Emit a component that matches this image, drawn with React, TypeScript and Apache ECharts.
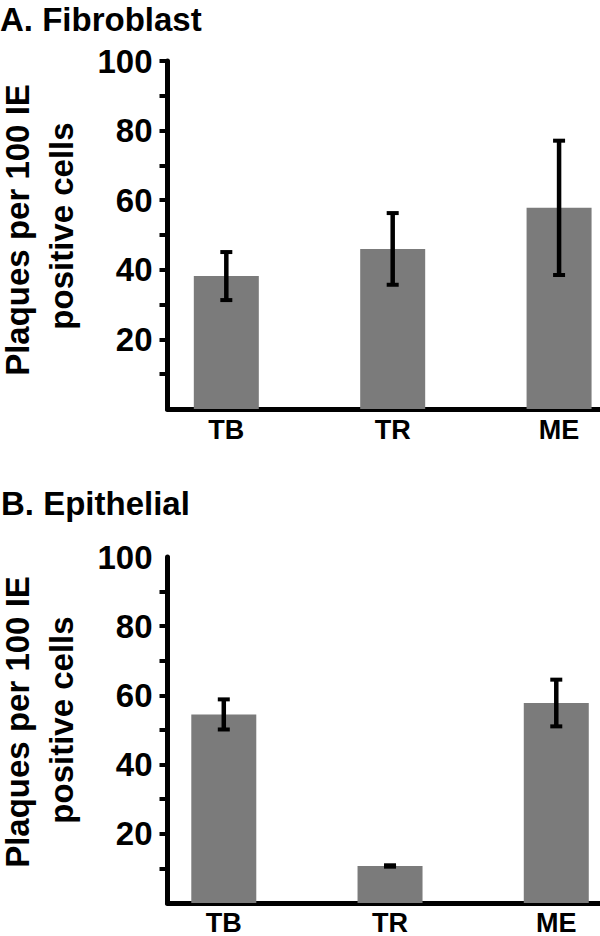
import React, { useEffect, useRef } from "react";
import * as echarts from "echarts";

const categories = ["TB", "TR", "ME"];
const fibroMeans = [38.2, 46, 57.8];
const fibroErr = [6.9, 10.3, 19.3];
const epiMeans = [54.5, 10.7, 57.8];
const epiErr = [4.35, 0.2, 6.75];
const yTickValues = [10, 20, 30, 40, 50, 60, 70, 80, 90, 100];
const yTickValuesB = [10, 20, 30, 40, 50, 60, 70, 80, 90];
const yLabelValues = [20, 40, 60, 80, 100];
const panelTitles = ["A. Fibroblast", "B. Epithelial"];
const yAxisTitleLines = ["Plaques per 100 IE", "positive cells"];

const FONT = "'Liberation Sans', Arial, Helvetica, sans-serif";

function errorRender(params: any, api: any) {
  const x = api.value(0);
  const m = api.value(1);
  const e = api.value(2);
  const top = api.coord([x, m + e]);
  const bot = api.coord([x, m - e]);
  const hw = 6;
  return {
    type: "group",
    children: [
      { type: "line", shape: { x1: top[0], y1: top[1], x2: bot[0], y2: bot[1] }, style: { stroke: "#000", lineWidth: 4.5 } },
      { type: "line", shape: { x1: top[0] - hw, y1: top[1], x2: top[0] + hw, y2: top[1] }, style: { stroke: "#000", lineWidth: 4 } },
      { type: "line", shape: { x1: bot[0] - hw, y1: bot[1], x2: bot[0] + hw, y2: bot[1] }, style: { stroke: "#000", lineWidth: 4 } },
    ],
  };
}

export default function App() {
  const ref = useRef<HTMLDivElement>(null);
  useEffect(() => {
    document.body.style.margin = "0";
    if (!ref.current) return;
    const chart = echarts.init(ref.current, null, { renderer: "svg" });

    const xAxisBase = (min: number, max: number, idx: number, margin: number) => ({
      type: "value",
      gridIndex: idx,
      min,
      max,
      axisLine: { show: true, onZero: false, lineStyle: { color: "#000", width: 5 } },
      axisTick: { show: false },
      splitLine: { show: false },
      axisLabel: {
        customValues: [0, 1, 2],
        formatter: (v: number) => categories[Math.round(v)] ?? "",
        fontSize: 27,
        fontWeight: "bold",
        fontFamily: FONT,
        color: "#000",
        lineHeight: 20,
        margin,
      },
    });

    const yAxisBase = (idx: number, ticks: number[]) => ({
      type: "value",
      gridIndex: idx,
      min: 0,
      max: 100,
      interval: 10,
      axisLine: { show: true, onZero: false, lineStyle: { color: "#000", width: 5 } },
      axisTick: {
        show: true,
        customValues: ticks,
        length: 8,
        lineStyle: { color: "#000", width: 4 },
      },
      splitLine: { show: false },
      axisLabel: {
        customValues: yLabelValues,
        fontSize: 33,
        fontWeight: "bold",
        fontFamily: FONT,
        color: "#000",
        margin: 15,
      },
    });

    const barData = (means: number[]) => categories.map((_, i) => [i, means[i]]);
    const errData = (means: number[], errs: number[]) =>
      categories.map((_, i) => [i, means[i], errs[i]]);

    const titleStyle = {
      fontSize: 33,
      fontWeight: "bold",
      fontFamily: FONT,
      color: "#000",
      lineHeight: 26,
    };

    const nameText = (text: string, x: number, y: number) => ({
      type: "text",
      x,
      y,
      rotation: Math.PI / 2,
      style: {
        text,
        fontSize: 33,
        fontWeight: "bold",
        fontFamily: FONT,
        fill: "#000",
        align: "center",
        verticalAlign: "middle",
      },
    });

    chart.setOption({
      animation: false,
      backgroundColor: "#fff",
      title: [
        { text: panelTitles[0], left: 0, top: 6, padding: 0, textStyle: titleStyle },
        { text: panelTitles[1], left: 1, top: 490, padding: 0, textStyle: titleStyle },
      ],
      graphic: [
        nameText(yAxisTitleLines[0], 17, 230),
        nameText(yAxisTitleLines[1], 61, 226),
        nameText(yAxisTitleLines[0], 17, 722),
        nameText(yAxisTitleLines[1], 61, 720),
      ],
      grid: [
        { left: 167.5, top: 61, width: 432.5, height: 348, outerBoundsMode: "none", containLabel: false },
        { left: 167.5, top: 557, width: 432.5, height: 346, outerBoundsMode: "none", containLabel: false },
      ],
      xAxis: [xAxisBase(-0.3535, 2.246, 0, 11), xAxisBase(-0.3386, 2.263, 1, 9.5)],
      yAxis: [yAxisBase(0, yTickValues), yAxisBase(1, yTickValuesB)],
      series: [
        {
          type: "bar",
          xAxisIndex: 0,
          yAxisIndex: 0,
          data: barData(fibroMeans),
          barWidth: 65,
          itemStyle: { color: "#7b7b7b" },
        },
        {
          type: "custom",
          xAxisIndex: 0,
          yAxisIndex: 0,
          data: errData(fibroMeans, fibroErr),
          encode: { x: 0, y: [1, 2] },
          renderItem: errorRender,
          z: 10,
        },
        {
          type: "bar",
          xAxisIndex: 1,
          yAxisIndex: 1,
          data: barData(epiMeans),
          barWidth: 65,
          itemStyle: { color: "#7b7b7b" },
        },
        {
          type: "custom",
          xAxisIndex: 1,
          yAxisIndex: 1,
          data: errData(epiMeans, epiErr),
          encode: { x: 0, y: [1, 2] },
          renderItem: errorRender,
          z: 10,
        },
      ],
    });
    return () => chart.dispose();
  }, []);
  return <div ref={ref} style={{ width: 600, height: 936 }} />;
}
